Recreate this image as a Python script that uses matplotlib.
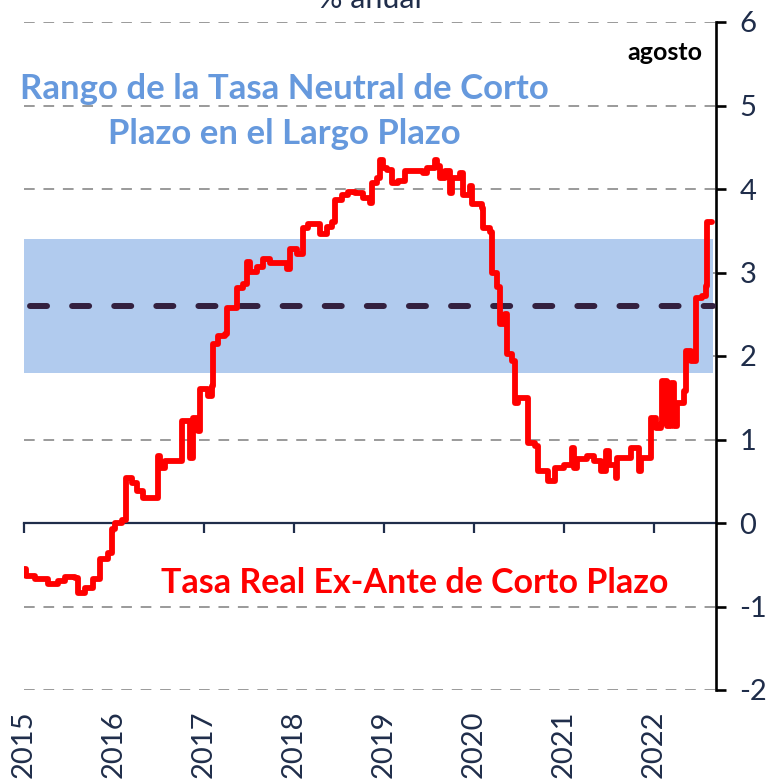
import matplotlib
matplotlib.use("Agg")
import matplotlib.pyplot as plt

# step series: decimal year where each level starts, and the level (% anual)
fechas = [
    2015.00, 2015.02, 2015.12, 2015.27, 2015.38, 2015.46, 2015.57, 2015.60, 2015.68,
    2015.77, 2015.84, 2015.93, 2015.98, 2016.01, 2016.09, 2016.13, 2016.20, 2016.26,
    2016.32, 2016.49, 2016.51, 2016.57, 2016.76, 2016.84, 2016.88, 2016.93, 2016.96,
    2017.04, 2017.09, 2017.10, 2017.16, 2017.23, 2017.26, 2017.37, 2017.43, 2017.48,
    2017.51, 2017.59, 2017.66, 2017.73, 2017.88, 2017.92, 2017.96, 2018.03, 2018.10,
    2018.16, 2018.29, 2018.37, 2018.42, 2018.46, 2018.53, 2018.60, 2018.68, 2018.77,
    2018.84, 2018.87, 2018.92, 2018.96, 2018.99, 2019.03, 2019.09, 2019.16, 2019.23,
    2019.43, 2019.48, 2019.57, 2019.59, 2019.62, 2019.68, 2019.73, 2019.76, 2019.84,
    2019.88, 2019.96, 2019.98, 2020.09, 2020.10, 2020.18, 2020.20, 2020.26, 2020.29,
    2020.34, 2020.37, 2020.42, 2020.46, 2020.49, 2020.60, 2020.68, 2020.71, 2020.82,
    2020.90, 2021.00, 2021.09, 2021.11, 2021.14, 2021.26, 2021.33, 2021.41, 2021.47,
    2021.50, 2021.58, 2021.59, 2021.74, 2021.83, 2021.86, 2021.97, 2022.02, 2022.08,
    2022.09, 2022.14, 2022.19, 2022.22, 2022.26, 2022.33, 2022.36, 2022.41, 2022.47,
    2022.53, 2022.58, 2022.59, 2022.64,
]
tasa_real = [
    -0.55, -0.63, -0.67, -0.73, -0.69, -0.65, -0.66, -0.84, -0.78,
    -0.67, -0.43, -0.36, -0.07, 0.00, 0.03, 0.54, 0.48, 0.38,
    0.30, 0.80, 0.66, 0.74, 1.22, 0.78, 1.26, 1.10, 1.60,
    1.52, 1.64, 2.14, 2.24, 2.26, 2.57, 2.81, 2.86, 3.13,
    3.01, 3.07, 3.16, 3.11, 3.11, 3.04, 3.28, 3.22, 3.53,
    3.58, 3.46, 3.55, 3.61, 3.87, 3.93, 3.97, 3.95, 3.89,
    3.83, 4.07, 4.13, 4.35, 4.25, 4.23, 4.07, 4.09, 4.21,
    4.19, 4.25, 4.35, 4.27, 4.13, 4.21, 3.95, 4.13, 4.19,
    3.93, 4.03, 3.82, 3.77, 3.53, 3.49, 2.99, 2.83, 2.38,
    2.50, 2.02, 1.94, 1.44, 1.50, 0.96, 0.92, 0.62, 0.50,
    0.66, 0.70, 0.90, 0.66, 0.77, 0.80, 0.74, 0.62, 0.86,
    0.70, 0.54, 0.78, 0.90, 0.62, 0.78, 1.26, 1.14, 1.18,
    1.70, 1.16, 1.68, 1.16, 1.44, 1.58, 2.06, 1.94, 2.69,
    2.72, 2.84, 3.61, 3.61,
]

rango_min = 1.8
rango_max = 3.4
rango_medio = 2.6
rango_ini = 2015.0
rango_fin = 2022.66

anios = [2015, 2016, 2017, 2018, 2019, 2020, 2021, 2022]
y_ticks = [-2, -1, 0, 1, 2, 3, 4, 5, 6]

NAVY = "#1F2D4A"
FONT = ["Lato", "DejaVu Sans"]
plt.rcParams["font.family"] = FONT
plt.rcParams["axes.unicode_minus"] = False

fig = plt.figure(figsize=(7.68, 7.82), dpi=100)
ax = fig.add_axes([24 / 768, 92 / 782, 692 / 768, 668 / 782])

ax.fill_between([rango_ini, rango_fin], rango_min, rango_max,
                color="#B1CBEE", lw=0, zorder=1)
ax.plot([rango_ini + 0.07, rango_fin], [rango_medio, rango_medio],
        color="#33203F", lw=4.3, dashes=(2.85, 4.2), dash_capstyle="round",
        zorder=3)
ax.plot(fechas, tasa_real, drawstyle="steps-post", color="#FF0000", lw=4.2,
        solid_joinstyle="round", solid_capstyle="round", zorder=4)

ax.set_xlim(2015.0, 2022.69)
ax.set_ylim(-2, 6)

# grid lines
for v in y_ticks:
    if v != 0:
        ax.axhline(v, color="#9A9A9A", lw=1.4, dashes=(5.5, 4.5), zorder=0.5)

# spines
ax.spines["top"].set_visible(False)
ax.spines["left"].set_visible(False)
ax.spines["right"].set_color("black")
ax.spines["right"].set_linewidth(1.9)
ax.spines["bottom"].set_position(("data", 0))
ax.spines["bottom"].set_color(NAVY)
ax.spines["bottom"].set_linewidth(1.6)
ax.spines["bottom"].set_zorder(2)

ax.yaxis.tick_right()
ax.set_yticks(y_ticks)
ax.tick_params(axis="y", direction="out", length=7, width=1.9, color="black",
               pad=10, labelsize=21, labelcolor=NAVY)
for lab in ax.get_yticklabels():
    lab.set_horizontalalignment("left")

ax.set_xticks(anios)
ax.tick_params(axis="x", direction="out", length=7, width=1.6, color=NAVY,
               labelbottom=False)

sec = ax.secondary_xaxis("bottom")
sec.set_xticks(anios)
sec.set_xticklabels([str(a) for a in anios], rotation=90, va="top")
sec.tick_params(axis="x", length=0, pad=15, labelsize=21, labelcolor=NAVY)
sec.spines["bottom"].set_visible(False)

ax.text(0.376, 0.900, "Rango de la Tasa Neutral de Corto", transform=ax.transAxes,
        ha="center", va="center", fontsize=25, fontweight="bold", color="#6699DD")
ax.text(0.376, 0.833, "Plazo en el Largo Plazo", transform=ax.transAxes,
        ha="center", va="center", fontsize=25, fontweight="bold", color="#6699DD")
ax.text(0.565, 0.160, "Tasa Real Ex-Ante de Corto Plazo", transform=ax.transAxes,
        ha="center", va="center", fontsize=24.5, fontweight="bold", color="#FF0000")
ax.text(0.926, 0.955, "agosto", transform=ax.transAxes, ha="center",
        va="center", fontsize=18, fontweight="bold", color="black")

fig.text(370 / 768, 774 / 782, "% anual", ha="center", va="baseline",
         fontsize=22, color=NAVY)

fig.savefig("out.png", dpi=100)
